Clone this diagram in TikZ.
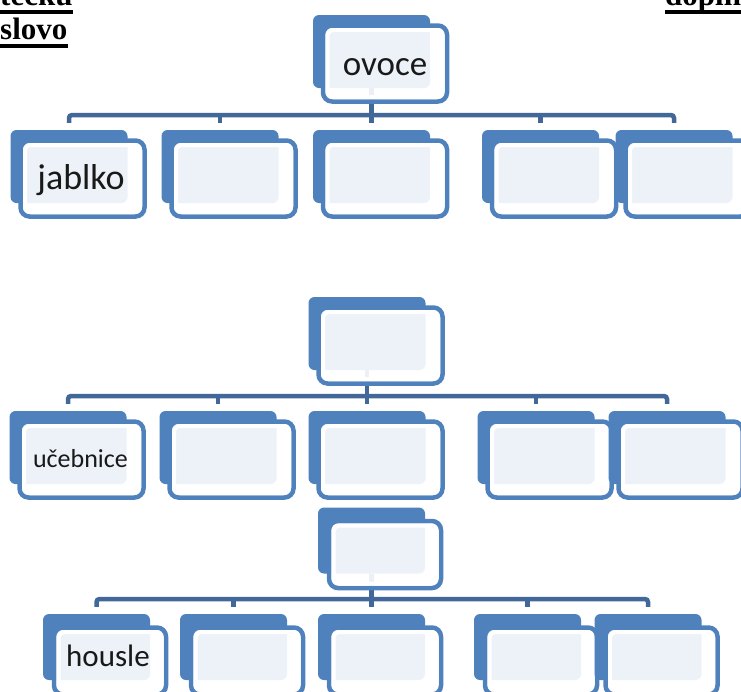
\documentclass[tikz,border=0pt]{standalone}
\usepackage{fontspec}
\usepackage{xcolor}
\usepackage{tikz}
\usetikzlibrary{positioning,calc,backgrounds}

\newfontfamily\boxfont{Carlito}
\newfontfamily\hdrfont{Liberation Serif}

\definecolor{boxblue}{RGB}{79,129,189}
\definecolor{linkblue}{RGB}{66,104,154}

\tikzset{
  backbig/.style={rectangle, fill=boxblue, rounded corners=6pt, inner sep=0pt, minimum width=117pt, minimum height=73pt},
  backsmall/.style={rectangle, fill=boxblue, rounded corners=6pt, inner sep=0pt, minimum width=107pt, minimum height=66pt},
  frontbig/.style={rectangle, draw=boxblue, line width=4.5pt, fill=white, fill opacity=0.9, rounded corners=9pt, inner sep=0pt, minimum width=124pt, minimum height=76pt},
  frontsmall/.style={rectangle, draw=boxblue, line width=4.5pt, fill=white, fill opacity=0.9, rounded corners=9pt, inner sep=0pt, minimum width=112pt, minimum height=67pt},
  bandbig/.style={rectangle, draw=white, line width=4pt, rounded corners=6pt, inner sep=0pt, minimum width=115pt, minimum height=67pt},
  bandsmall/.style={rectangle, draw=white, line width=4pt, rounded corners=6pt, inner sep=0pt, minimum width=103pt, minimum height=58pt},
  link/.style={draw=linkblue, line width=4.5pt},
  boxlabel/.style={font=\boxfont\fontsize{#1}{#1}\selectfont, text=black!90, anchor=base, inner sep=0pt},
  hdr/.style={font=\hdrfont\bfseries\fontsize{31}{31}\selectfont, anchor=base west, inner sep=0pt},
  uline/.style={line width=3.5pt},
}

% one box of the map: name, back centre, size, offset of the frame
\newcommand{\mapbox}[4]{%
  \node[back#3] (#1) at (#2) {};
  \node[front#3] (#1f) at ($(#1.center)+(#4)$) {};
  \node[band#3] (#1w) at (#1f.center) {};
}

\begin{document}
\begin{tikzpicture}[x=1pt, y=-1pt]
    \useasboundingbox (0,0) rectangle (741,691);
    \clip (0,0) rectangle (741,691);

    % Heading
    \node[hdr] (h1) at (0,5) {tečku};
    \node[hdr] (h2) at (0,39) {slovo};
    \node[hdr] (h3) at (665,5) {doplň};
    \foreach \h in {h1,h2,h3}
        \draw[uline] ([yshift=-7pt]\h.base west) -- ([yshift=-7pt]\h.base east);

    % First map
    \mapbox{r1}{371.5,51.5}{big}{13.5,12}
    \foreach \n/\x in {a1/69, a2/220, a3/371.5, a4/540.5, a5/674}
        {\mapbox{\n}{\x,166.5}{big}{13.5,12}}
    \node[boxlabel=35] (t1) at ($(r1f.center)+(0,11.5)$) {ovoce};
    \node[boxlabel=36] (t2) at ($(a1f.center)+(-1.5,11)$) {jablko};

    % Second map
    \mapbox{r2}{367,333.5}{big}{13.5,12}
    \foreach \n/\x in {b1/68, b2/218, b3/367, b4/536, b5/667}
        {\mapbox{\n}{\x,447.5}{big}{13.5,12}}
    \node[boxlabel=26] (t3) at ($(b1f.center)+(-1,7.5)$) {učebnice};

    % Third map
    \mapbox{r3}{371.5,540.5}{small}{13.5,14}
    \foreach \n/\x in {c1/96.5, c2/233.5, c3/371.5, c4/527.5, c5/648}
        {\mapbox{\n}{\x,647}{small}{13.5,14}}
    \node[boxlabel=31] (t4) at ($(c1f.center)+(-2,5)$) {housle};

    % Links
    \begin{scope}[on background layer]
        \coordinate (j1) at (371.5,115);
        \coordinate (j2) at (367,396);
        \coordinate (j3) at (371.5,599);
        \foreach \r/\j/\p in {r1/j1/a, r2/j2/b, r3/j3/c} {
            \draw[link] (\r.south) -- (\j);
            \draw[link, rounded corners=3pt] ([yshift=7pt]\p1.north) -- (\p1.north |- \j)
                -- (\p5.north |- \j) -- ([yshift=7pt]\p5.north);
            \foreach \k in {2,3,4}
                \draw[link] (\p\k.north |- \j) -- ([yshift=7pt]\p\k.north);
        }
    \end{scope}
\end{tikzpicture}
\end{document}
